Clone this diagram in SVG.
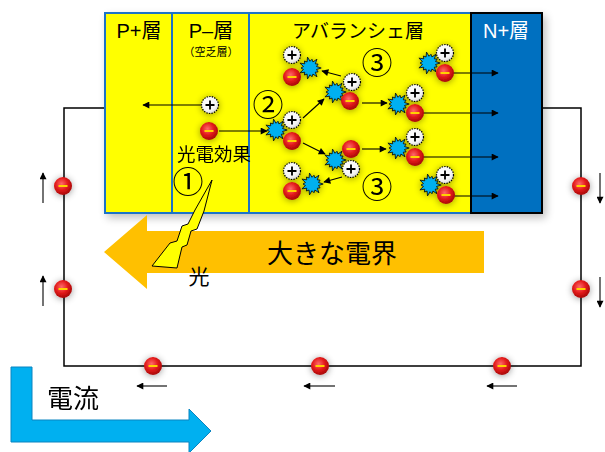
<svg xmlns="http://www.w3.org/2000/svg" xmlns:xlink="http://www.w3.org/1999/xlink" width="605" height="452" viewBox="0 0 605 452">
  <style>
    .lbl { font-family: "Liberation Sans", "Noto Sans CJK JP", sans-serif; fill: #000; }
    .jp { font-family: "Noto Sans CJK JP", sans-serif; fill: #000; }
    .wire { fill: none; stroke: #000; stroke-width: 1.5; }
    .arr { fill: none; stroke: #000; stroke-width: 1.1; marker-end: url(#head); }
    .num { font-family: "Noto Sans CJK JP", sans-serif; font-size: 31px; text-anchor: middle; fill: #000; }
  </style>
  <defs>
    <marker id="head" viewBox="0 0 10 10" refX="9" refY="5" markerWidth="8" markerHeight="7" orient="auto" markerUnits="userSpaceOnUse">
      <path d="M0,0 L10,5 L0,10 z" fill="#000"/>
    </marker>
    <radialGradient id="gE" cx="0.42" cy="0.38" r="0.62">
      <stop offset="0" stop-color="#ff6a6a"/>
      <stop offset="0.55" stop-color="#e31b1b"/>
      <stop offset="1" stop-color="#a80808"/>
    </radialGradient>
    <radialGradient id="gH" cx="0.4" cy="0.35" r="0.7">
      <stop offset="0" stop-color="#ffffff"/>
      <stop offset="0.7" stop-color="#f4f4f4"/>
      <stop offset="1" stop-color="#cfcfcf"/>
    </radialGradient>
    <filter id="glow" x="-80%" y="-80%" width="260%" height="260%">
      <feGaussianBlur in="SourceAlpha" stdDeviation="3.5"/>
      <feOffset dy="1"/>
      <feComponentTransfer><feFuncA type="linear" slope="0.4"/></feComponentTransfer>
      <feMerge><feMergeNode/><feMergeNode in="SourceGraphic"/></feMerge>
    </filter>
    <filter id="boxShadow" x="-10%" y="-10%" width="125%" height="130%">
      <feGaussianBlur in="SourceAlpha" stdDeviation="4"/>
      <feOffset dx="3" dy="4"/>
      <feComponentTransfer><feFuncA type="linear" slope="0.25"/></feComponentTransfer>
      <feMerge><feMergeNode/><feMergeNode in="SourceGraphic"/></feMerge>
    </filter>
    <!-- electron: red sphere with yellow minus bar -->
    <g id="electron">
      <circle r="9" fill="url(#gE)"/>
      <line x1="-4.5" y1="0" x2="4.5" y2="0" stroke="#FFD200" stroke-width="2"/>
    </g>
    <!-- hole: white disc with dotted rim and plus sign -->
    <g id="hole">
      <circle r="8.5" fill="url(#gH)" stroke="#000" stroke-width="1.2" stroke-dasharray="1.4 1.2"/>
      <path d="M-4.5,0 H4.5 M0,-4.5 V4.5" stroke="#000" stroke-width="1.8"/>
    </g>
    <!-- ionisation burst -->
    <path id="burst" transform="scale(1.12)" d="M10,0 L5.84,1.33 L7.21,3.47 L4.69,3.74 L6.23,7.82 L2.60,5.40 L1.78,7.80 L0,6 L-2.23,9.75 L-2.60,5.40 L-4.99,6.25 L-4.69,3.74 L-9.01,4.34 L-5.84,1.33 L-8,0 L-5.84,-1.33 L-9.01,-4.34 L-4.69,-3.74 L-4.99,-6.25 L-2.60,-5.40 L-2.23,-9.75 L0,-6 L1.78,-7.80 L2.60,-5.40 L6.23,-7.82 L4.69,-3.74 L7.21,-3.47 L5.84,-1.33 Z" fill="#00B0F0" stroke="#000" stroke-width="0.7"/>
  </defs>

  <rect width="605" height="452" fill="#fff"/>

  <!-- external circuit wire -->
  <g id="circuit">
    <polyline class="wire" points="105,108 64,108 64,366 581,366 581,108 542,108"/>
  </g>

  <!-- semiconductor layers -->
  <g id="device" filter="url(#boxShadow)">
    <rect x="105" y="13" width="366" height="200" fill="#FFFF00" stroke="#1E73C8" stroke-width="2"/>
    <line x1="172" y1="13" x2="172" y2="213" stroke="#1E73C8" stroke-width="2"/>
    <line x1="249" y1="13" x2="249" y2="213" stroke="#1E73C8" stroke-width="2"/>
    <rect x="471" y="13" width="71" height="200" fill="#0070C0" stroke="#000" stroke-width="2"/>
  </g>
  <g id="layer-labels">
    <text class="lbl" x="139" y="38" font-size="20" text-anchor="middle">P+層</text>
    <text class="lbl" x="211" y="38" font-size="20" text-anchor="middle">P–層</text>
    <text class="jp" x="211" y="56" font-size="11" text-anchor="middle" fill="#222">（空乏層）</text>
    <text class="jp" x="358" y="38" font-size="19" text-anchor="middle">アバランシェ層</text>
    <text class="lbl" x="506" y="38" font-size="20" text-anchor="middle" style="fill:#fff">N+層</text>
  </g>

  <!-- electric field arrow -->
  <g id="field">
    <polygon points="104,252 147,215 147,231 484,231 484,273 147,273 147,289" fill="#FFC000"/>
    <text class="jp" x="332" y="263" font-size="26" text-anchor="middle">大きな電界</text>
  </g>

  <!-- incoming light -->
  <g id="light">
    <polygon points="212,180 204,211 197,229 191,231 187,245 182,247 177,268 152,266 170,243 177,241 182,226 188,224 195,210" fill="#FFFF00" stroke="#000" stroke-width="1"/>
    <text class="jp" x="199" y="284" font-size="21" text-anchor="middle">光</text>
  </g>

  <!-- carrier motion -->
  <g id="connectors">
    <line class="arr" x1="201" y1="105" x2="143" y2="105"/>
    <line class="arr" x1="219" y1="131" x2="267" y2="131"/>
    <line class="arr" x1="303" y1="118" x2="324" y2="99"/>
    <line class="arr" x1="341" y1="76" x2="322" y2="71"/>
    <line class="arr" x1="362" y1="103" x2="387" y2="103"/>
    <line class="arr" x1="415" y1="113" x2="498" y2="113"/>
    <line class="arr" x1="445" y1="73" x2="498" y2="73"/>
    <line class="arr" x1="303" y1="143" x2="325" y2="154"/>
    <line class="arr" x1="342" y1="177" x2="324" y2="182"/>
    <line class="arr" x1="362" y1="149" x2="386" y2="149"/>
    <line class="arr" x1="415" y1="157" x2="498" y2="157"/>
    <line class="arr" x1="446" y1="196" x2="498" y2="196"/>
    <line class="arr" x1="43" y1="203" x2="43" y2="173"/>
    <line class="arr" x1="43" y1="306" x2="43" y2="276"/>
    <line class="arr" x1="600" y1="173" x2="600" y2="203"/>
    <line class="arr" x1="600" y1="277" x2="600" y2="307"/>
    <line class="arr" x1="167" y1="386" x2="137" y2="386"/>
    <line class="arr" x1="335" y1="386" x2="304" y2="386"/>
    <line class="arr" x1="517" y1="386" x2="487" y2="386"/>
  </g>

  <!-- photo-generated pair -->
  <g id="pair-photo" filter="url(#glow)">
    <use xlink:href="#hole" x="210" y="105"/>
    <use xlink:href="#electron" x="209" y="131"/>
  </g>
  <g id="pair-a" filter="url(#glow)">
    <use xlink:href="#burst" x="276" y="130"/>
    <use xlink:href="#hole" x="292" y="120"/>
    <use xlink:href="#electron" x="292" y="141"/>
  </g>
  <g id="pair-b" filter="url(#glow)">
    <use xlink:href="#burst" x="335" y="92"/>
    <use xlink:href="#hole" x="352" y="82"/>
    <use xlink:href="#electron" x="350" y="101"/>
  </g>
  <g id="pair-c" filter="url(#glow)">
    <use xlink:href="#burst" x="310" y="68"/>
    <use xlink:href="#hole" x="292" y="55"/>
    <use xlink:href="#electron" x="292" y="77"/>
  </g>
  <g id="pair-d" filter="url(#glow)">
    <use xlink:href="#burst" x="398" y="104"/>
    <use xlink:href="#hole" x="415" y="93"/>
    <use xlink:href="#electron" x="415" y="113"/>
  </g>
  <g id="pair-e" filter="url(#glow)">
    <use xlink:href="#burst" x="429" y="63"/>
    <use xlink:href="#hole" x="445" y="53"/>
    <use xlink:href="#electron" x="445" y="73"/>
  </g>
  <g id="pair-f" filter="url(#glow)">
    <use xlink:href="#burst" x="335" y="160"/>
    <use xlink:href="#hole" x="351" y="169"/>
    <use xlink:href="#electron" x="351" y="149"/>
  </g>
  <g id="pair-g" filter="url(#glow)">
    <use xlink:href="#burst" x="312" y="184"/>
    <use xlink:href="#hole" x="292" y="171"/>
    <use xlink:href="#electron" x="292" y="191"/>
  </g>
  <g id="pair-h" filter="url(#glow)">
    <use xlink:href="#burst" x="398" y="148"/>
    <use xlink:href="#hole" x="415" y="137"/>
    <use xlink:href="#electron" x="415" y="157"/>
  </g>
  <g id="pair-i" filter="url(#glow)">
    <use xlink:href="#burst" x="430" y="185"/>
    <use xlink:href="#hole" x="445" y="175"/>
    <use xlink:href="#electron" x="446" y="195"/>
  </g>

  <!-- electrons in the outer circuit -->
  <g id="circuit-electrons" filter="url(#glow)">
    <use xlink:href="#electron" x="63" y="186"/>
    <use xlink:href="#electron" x="63" y="289"/>
    <use xlink:href="#electron" x="581" y="186"/>
    <use xlink:href="#electron" x="581" y="289"/>
    <use xlink:href="#electron" x="153" y="366"/>
    <use xlink:href="#electron" x="320" y="366"/>
    <use xlink:href="#electron" x="502" y="366"/>
  </g>

  <g id="photo-label">
    <text class="jp" x="214" y="161" font-size="18.5" text-anchor="middle">光電効果</text>
  </g>

  <!-- step numbers -->
  <g id="steps">
    <text class="num" x="188" y="193">①</text>
    <text class="num" x="268" y="116">②</text>
    <text class="num" x="377" y="74">③</text>
    <text class="num" x="377" y="198">③</text>
  </g>

  <!-- current direction -->
  <g id="current">
    <polygon points="11,367 32,367 32,420 189,420 189,409 211,431 189,453 189,442 11,442" fill="#00B0F0" stroke="#0B84C0" stroke-width="1"/>
    <text class="jp" x="73" y="408" font-size="26" text-anchor="middle">電流</text>
  </g>
</svg>
